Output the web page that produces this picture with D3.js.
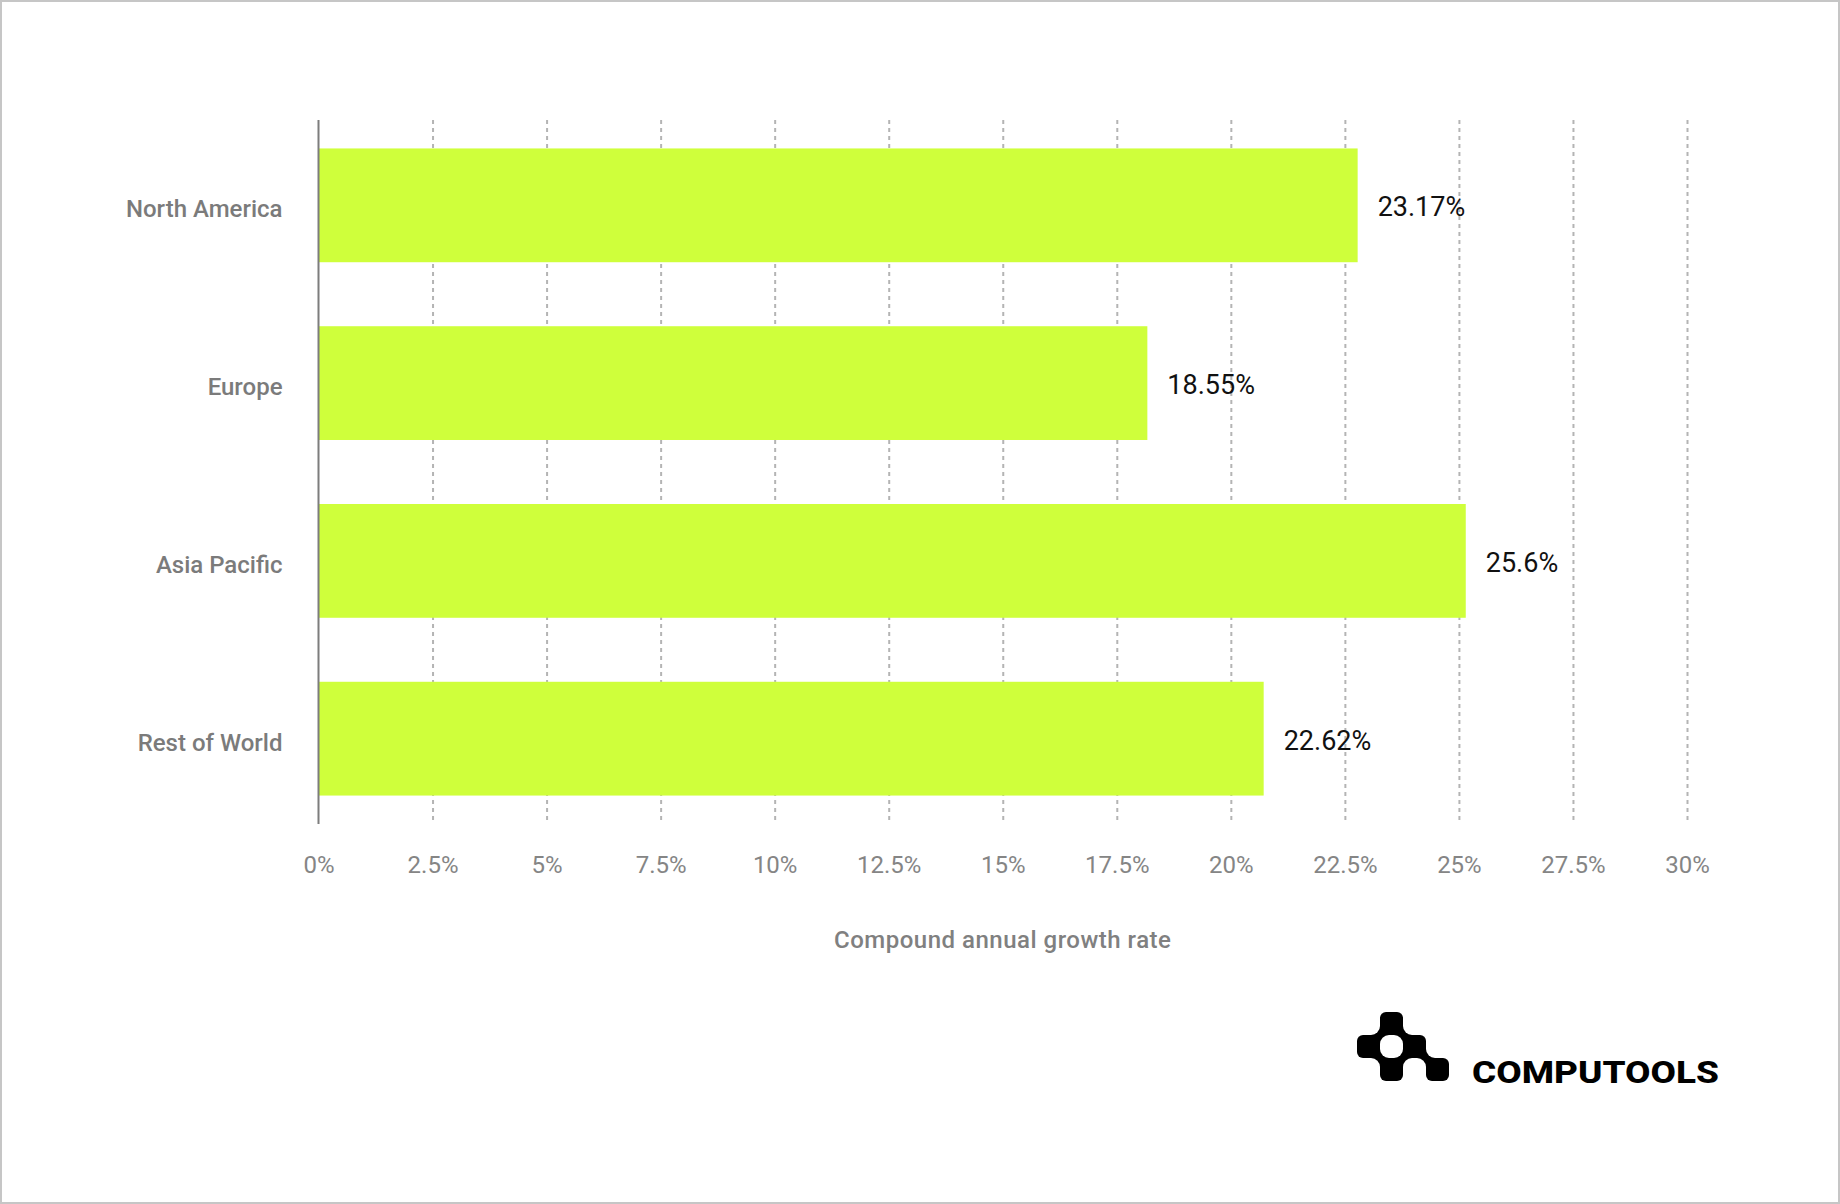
<!DOCTYPE html>
<html>
<head>
<meta charset="utf-8">
<script src="https://cdn.jsdelivr.net/npm/d3@7"></script>
<style>
    body { margin: 0; background: #fff; }
    #chart-area { width: 1840px; height: 1204px; }
    text { font-family: Roboto, "Noto Sans", sans-serif; }
</style>
</head>
<body>
<div id="chart-area"></div>
<script>

// Regions, bar lengths (as drawn) and the printed value labels
var regions = ["North America", "Europe", "Asia Pacific", "Rest of World"];
var barValues = [22.78, 18.17, 25.15, 20.72];
var valueLabels = ["23.17%", "18.55%", "25.6%", "22.62%"];

// x axis
var tickValues = [0, 2.5, 5, 7.5, 10, 12.5, 15, 17.5, 20, 22.5, 25, 27.5, 30];
var axisTitle = "Compound annual growth rate";

// logo
var brandName = "COMPUTOOLS";
var logoCells = [[1, 0], [0, 1], [2, 1], [1, 2], [3, 2]];


/*
 * BarChart - Object constructor function
 * @param _parentElement    -- the HTML element in which to draw the visualization
 */
BarChart = function(_parentElement){
    this.parentElement = _parentElement;
    this.data = regions.map(function(r, i){
        return { region: r, value: barValues[i], label: valueLabels[i] };
    });

    this.initVis();
}


/*
 * Initialize visualization (static content; e.g. SVG area, axes)
 */
BarChart.prototype.initVis = function(){
    var vis = this;

    vis.margin = { top: 120, right: 153, bottom: 380, left: 318.5 };
    vis.width = 1840 - vis.margin.left - vis.margin.right;
    vis.height = 1204 - vis.margin.top - vis.margin.bottom;

    vis.root = d3.select("#" + vis.parentElement).append("svg")
        .attr("width", 1840)
        .attr("height", 1204);

    // frame
    vis.root.append("rect")
        .attr("x", 1).attr("y", 1)
        .attr("width", 1838).attr("height", 1202)
        .attr("fill", "#fff")
        .attr("stroke", "#c6c6c6")
        .attr("stroke-width", 2);

    vis.svg = vis.root.append("g")
        .attr("transform", "translate(" + vis.margin.left + "," + vis.margin.top + ")");

    // Scales
    vis.x = d3.scaleLinear()
        .domain([0, 30])
        .range([0, vis.width]);

    vis.y = d3.scaleBand()
        .domain(regions)
        .range([0, vis.height])
        .paddingInner(0.36)
        .paddingOuter(0.16);

    // dashed grid
    vis.grid = vis.svg.append("g")
        .attr("class", "grid")
        .call(d3.axisBottom(vis.x)
            .tickValues(tickValues.slice(1))
            .tickSize(vis.height)
            .tickFormat(""));
    vis.grid.select(".domain").remove();
    vis.grid.selectAll("line")
        .attr("stroke", "#b4b4b4")
        .attr("stroke-width", 2)
        .attr("stroke-dasharray", "4,4");

    // x tick labels
    vis.xAxis = vis.svg.append("g")
        .attr("transform", "translate(0," + vis.height + ")")
        .call(d3.axisBottom(vis.x)
            .tickValues(tickValues)
            .tickSize(0)
            .tickFormat(function(d){ return d + "%"; }));
    vis.xAxis.select(".domain").remove();
    vis.xAxis.selectAll("text")
        .attr("y", 41)
        .attr("dy", "0.35em")
        .attr("font-size", 24)
        .attr("fill", "#858585");

    vis.svg.append("text")
        .attr("x", vis.width / 2)
        .attr("y", vis.height + 116)
        .attr("dy", "0.35em")
        .attr("text-anchor", "middle")
        .attr("font-size", 24)
        .attr("font-weight", 500)
        .attr("letter-spacing", 0.5)
        .attr("fill", "#808080")
        .text(axisTitle);

    // y axis labels
    vis.yAxis = vis.svg.append("g")
        .call(d3.axisLeft(vis.y).tickSize(0).tickPadding(36));
    vis.yAxis.select(".domain").remove();
    vis.yAxis.selectAll("text")
        .attr("dy", "0.5em")
        .attr("font-size", 24)
        .attr("font-weight", 500)
        .attr("fill", "#7b7b7b");

    vis.barGroup = vis.svg.append("g");

    // vertical axis line
    vis.svg.append("line")
        .attr("x1", 0).attr("x2", 0)
        .attr("y1", 0).attr("y2", vis.height)
        .attr("stroke", "#7d7d7d")
        .attr("stroke-width", 2);

    vis.drawLogo();

    vis.wrangleData();
}


/*
 * Data wrangling
 */
BarChart.prototype.wrangleData = function(){
    var vis = this;

    vis.displayData = vis.data;

    vis.updateVis();
}


/*
 * The drawing function
 */
BarChart.prototype.updateVis = function(){
    var vis = this;

    vis.barGroup.selectAll(".bar")
        .data(vis.displayData)
        .join("rect")
        .attr("class", "bar")
        .attr("x", vis.x(0))
        .attr("y", function(d){ return vis.y(d.region); })
        .attr("width", function(d){ return vis.x(d.value) - vis.x(0); })
        .attr("height", vis.y.bandwidth())
        .attr("fill", "#cfff3b");

    vis.barGroup.selectAll(".value")
        .data(vis.displayData)
        .join("text")
        .attr("class", "value")
        .attr("x", function(d){ return vis.x(d.value) + 20; })
        .attr("y", function(d){ return vis.y(d.region) + vis.y.bandwidth() / 2 + 1.5; })
        .attr("dy", "0.35em")
        .attr("font-size", 27)
        .attr("fill", "#111")
        .text(function(d){ return d.label; });
}


/*
 * Brand logo, bottom right
 */
BarChart.prototype.drawLogo = function(){
    var vis = this;
    var s = 23, r = 9;

    var logo = vis.root.append("g")
        .attr("transform", "translate(1357,1012)");

    logo.selectAll(".cell")
        .data(logoCells)
        .join("rect")
        .attr("class", "cell")
        .attr("x", function(d){ return d[0] * s; })
        .attr("y", function(d){ return d[1] * s; })
        .attr("width", s).attr("height", s)
        .attr("rx", 6)
        .attr("fill", "#000");

    // diagonal joins with concave fillets
    var joins = [];
    logoCells.forEach(function(a, i){
        logoCells.forEach(function(b, j){
            if (j <= i) return;
            if (Math.abs(a[0] - b[0]) === 1 && Math.abs(a[1] - b[1]) === 1) {
                joins.push({ px: Math.max(a[0], b[0]) * s, py: Math.max(a[1], b[1]) * s, a: a, b: b });
            }
        });
    });

    logo.selectAll(".join")
        .data(joins)
        .join("rect")
        .attr("class", "join")
        .attr("x", function(d){ return d.px - r; })
        .attr("y", function(d){ return d.py - r; })
        .attr("width", 2 * r).attr("height", 2 * r)
        .attr("fill", "#000");

    var cuts = [];
    joins.forEach(function(d){
        // the two empty cells touching the join corner
        [[d.a[0], d.b[1]], [d.b[0], d.a[1]]].forEach(function(e){
            var dx = e[0] * s < d.px ? -1 : 1;
            var dy = e[1] * s < d.py ? -1 : 1;
            cuts.push({ cx: d.px + dx * r, cy: d.py + dy * r });
        });
    });

    logo.selectAll(".cut")
        .data(cuts)
        .join("circle")
        .attr("class", "cut")
        .attr("cx", function(d){ return d.cx; })
        .attr("cy", function(d){ return d.cy; })
        .attr("r", r)
        .attr("fill", "#fff");

    vis.root.append("text")
        .attr("x", 1472)
        .attr("y", 1083)
        .attr("font-family", "Inter, 'Liberation Sans', sans-serif")
        .attr("font-size", 32)
        .attr("font-weight", 800)
        .attr("textLength", 247)
        .attr("lengthAdjust", "spacingAndGlyphs")
        .attr("fill", "#000")
        .text(brandName);
}


var chart = new BarChart("chart-area");

</script>
</body>
</html>
